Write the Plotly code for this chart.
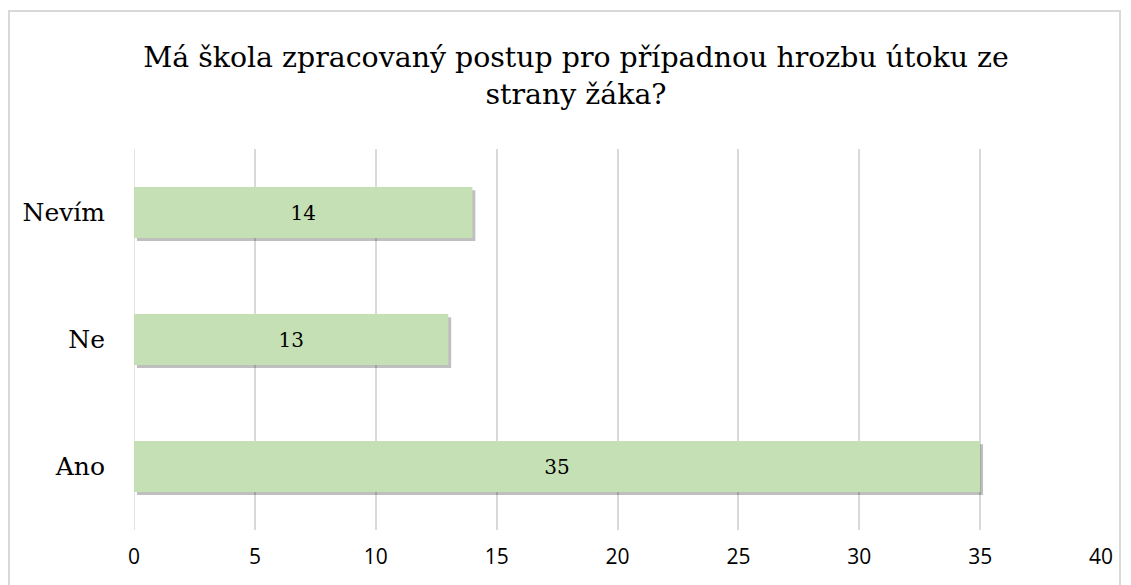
import plotly.graph_objects as go

categories = ["Ano", "Ne", "Nevím"]
values = [35, 13, 14]
x_ticks = [0, 5, 10, 15, 20, 25, 30, 35, 40]

title_text = "Má škola zpracovaný postup pro případnou hrozbu útoku ze<br>strany žáka?"

W, H = 1131, 585
OFF = 8  # page body offset
L, R = 134 - OFF, W - (1101 - OFF)
T, B = 149 - OFF, H - (530 - OFF)
pw, ph = W - L - R, H - T - B

fig = go.Figure()
# soft shadow
fig.add_trace(go.Bar(
    y=categories, x=values, orientation="h", base=0.12,
    width=0.4, offset=-0.2 - 0.025,
    marker=dict(color="rgba(0,0,0,0.25)", line=dict(width=0)),
    hoverinfo="skip", showlegend=False,
))
fig.add_trace(go.Bar(
    y=categories, x=values, orientation="h",
    width=0.4, offset=-0.2,
    marker=dict(color="#c5e0b4", line=dict(width=0)),
    text=[str(v) for v in values], textposition="inside",
    insidetextanchor="middle",
    textfont=dict(family="DejaVu Serif, Liberation Serif, serif", size=20, color="#000000"),
    showlegend=False,
))

def px(x):
    return (x - OFF - L) / pw

def py(y):
    return (H - B - (y - OFF)) / ph

fig.update_layout(
    width=W, height=H,
    barmode="overlay",
    margin=dict(l=L, r=R, t=T, b=B),
    paper_bgcolor="white", plot_bgcolor="white",
    title=dict(
        text=title_text, x=(576 - OFF) / W, xanchor="center",
        y=1 - 59 / H, yanchor="top", yref="container",
        font=dict(family="DejaVu Serif, Liberation Serif, serif", size=28.4, color="#000000"),
    ),
    xaxis=dict(
        range=[0, 40], tickvals=x_ticks, ticktext=[str(t) for t in x_ticks],
        showgrid=True, gridcolor="#d9d9d9", gridwidth=1.5,
        zeroline=False, showline=False, ticks="",
        ticklabelstandoff=12,
        tickfont=dict(family="Open Sans, Liberation Sans, sans-serif", size=21, color="#000000"),
    ),
    yaxis=dict(
        range=[-0.5, 2.5], showgrid=False, zeroline=False, showline=False, ticks="",
        ticklabelstandoff=28,
        tickfont=dict(family="DejaVu Serif, Liberation Serif, serif", size=25, color="#000000"),
    ),
    shapes=[
        dict(type="line", xref="x", yref="paper", x0=0, x1=0, y0=0, y1=1,
             line=dict(color="#d9d9d9", width=1.5), layer="below"),
        dict(type="rect", xref="paper", yref="paper",
             x0=px(9), x1=px(1120), y0=py(11), y1=py(620),
             line=dict(color="#d9d9d9", width=2), fillcolor="rgba(0,0,0,0)"),
    ],
)

fig.write_html("out.html")
